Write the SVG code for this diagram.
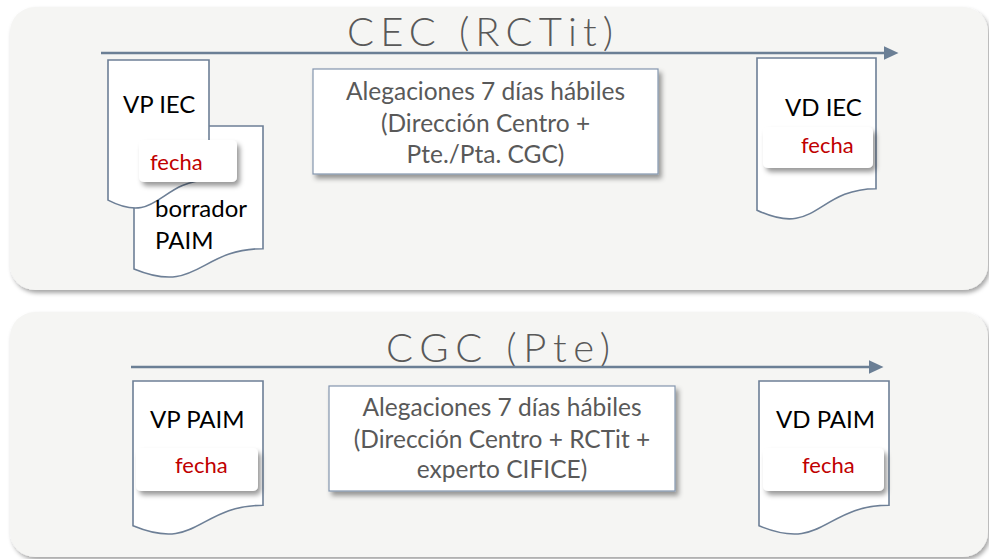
<svg xmlns="http://www.w3.org/2000/svg" width="989" height="559" viewBox="0 0 989 559">
<defs>
<style>
.panel{fill:#F5F5F3;filter:url(#pshadow)}
.doc{fill:#FFFFFF;stroke:#6D7F96;stroke-width:1.6}
.box{fill:#FFFFFF;stroke:#8496AE;stroke-width:1.2;filter:url(#bshadow)}
.tag{fill:#FFFFFF;filter:url(#bshadow)}
.title{font-family:Lato,"Open Sans",sans-serif;font-weight:300;font-size:40px;fill:#595959}
.lbl{font-family:Lato,"Open Sans",sans-serif;font-size:24px;fill:#000000}
.btxt{font-family:Lato,"Open Sans",sans-serif;font-size:24.5px;fill:#595959;text-anchor:middle}
.fecha{font-family:Lato,"Open Sans",sans-serif;font-size:22px;fill:#C00000}
.arr{stroke:#6B7F95;stroke-width:2.5;fill:none}
</style>
<filter id="pshadow" x="-5%" y="-5%" width="110%" height="115%">
<feDropShadow dx="2" dy="3" stdDeviation="2" flood-color="#000" flood-opacity="0.35"/>
</filter>
<filter id="bshadow" x="-10%" y="-10%" width="125%" height="135%">
<feDropShadow dx="3" dy="4" stdDeviation="2.5" flood-color="#000" flood-opacity="0.4"/>
</filter>
<marker id="ah" viewBox="0 0 15 14" markerWidth="15" markerHeight="14" refX="0.5" refY="7" orient="auto" markerUnits="userSpaceOnUse">
<path d="M0,0 L15,7 L0,14 Z" fill="#6B7F95"/>
</marker>
</defs>

<g id="panel-cec">
<rect class="panel" x="10" y="7" width="978" height="283" rx="25"/>
<text class="title" x="347" y="46" textLength="266" lengthAdjust="spacing">CEC (RCTit)</text>
</g>
<g id="panel-cgc">
<rect class="panel" x="10" y="312" width="978" height="245" rx="25"/>
<text class="title" x="386" y="362" textLength="224" lengthAdjust="spacing">CGC (Pte)</text>
</g>

<g id="connectors">
<line class="arr" x1="101" y1="53" x2="884" y2="53" marker-end="url(#ah)"/>
<line class="arr" x1="131" y1="367" x2="869" y2="367" marker-end="url(#ah)"/>
</g>

<g id="doc-borrador-paim">
<path class="doc" d="M134,126 H263 V248.7 C198.5,248.7 198.5,295.4 134,268.9 Z"/>
</g>
<g id="doc-vp-iec">
<path class="doc" d="M108,60 H209 V180.3 C158.5,180.3 158.5,226 108,200.1 Z"/>
<text class="lbl" x="123" y="113">VP IEC</text>
<rect class="tag" x="139" y="140" width="98" height="42" rx="5"/>
<text class="fecha" x="150" y="170">fecha</text>
</g>
<g id="doc-borrador-paim-text">
<text class="lbl" x="155" y="217">borrador</text>
<text class="lbl" x="155" y="249">PAIM</text>
</g>

<g id="box-alegaciones-cec">
<rect class="box" x="313" y="69" width="345" height="105"/>
<text class="btxt" x="485.5" y="100">Alegaciones 7 días hábiles</text>
<text class="btxt" x="485.5" y="132">(Dirección Centro +</text>
<text class="btxt" x="485.5" y="163">Pte./Pta. CGC)</text>
</g>

<g id="doc-vd-iec">
<path class="doc" d="M757,58 H876 V188.7 C816.5,188.7 816.5,238.4 757,210.2 Z"/>
<text class="lbl" x="785" y="116">VD IEC</text>
<rect class="tag" x="763" y="127" width="110" height="41" rx="5"/>
<text class="fecha" x="801" y="153">fecha</text>
</g>

<g id="doc-vp-paim">
<path class="doc" d="M133,381 H263 V505.3 C198,505.3 198,552.6 133,525.8 Z"/>
<text class="lbl" x="150" y="428">VP PAIM</text>
<rect class="tag" x="136" y="448" width="122" height="43" rx="5"/>
<text class="fecha" x="175" y="473">fecha</text>
</g>

<g id="box-alegaciones-cgc">
<rect class="box" x="329" y="386" width="346" height="105"/>
<text class="btxt" x="502" y="416">Alegaciones 7 días hábiles</text>
<text class="btxt" x="502" y="448">(Dirección Centro + RCTit +</text>
<text class="btxt" x="502" y="478">experto CIFICE)</text>
</g>

<g id="doc-vd-paim">
<path class="doc" d="M759,381 H889 V505.3 C824,505.3 824,552.6 759,525.8 Z"/>
<text class="lbl" x="776" y="428">VD PAIM</text>
<rect class="tag" x="763" y="448" width="121" height="43" rx="5"/>
<text class="fecha" x="802" y="473">fecha</text>
</g>
</svg>
